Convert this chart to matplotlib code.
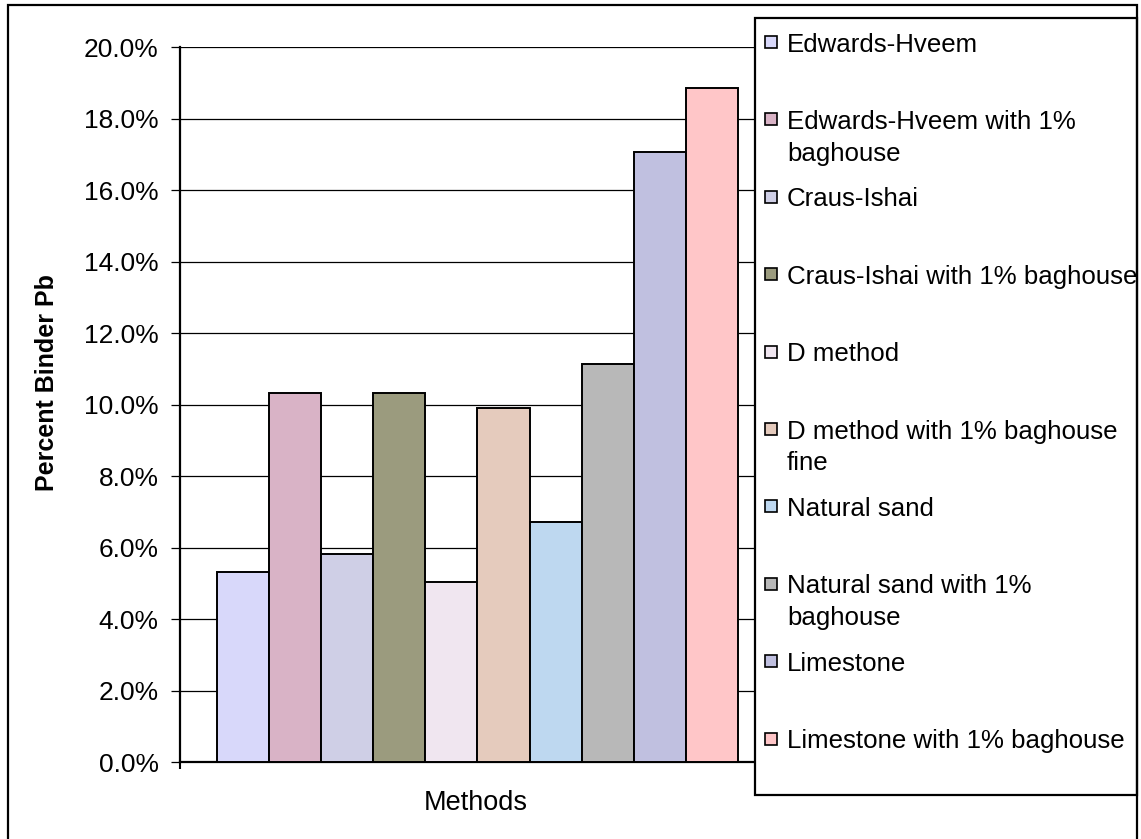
import matplotlib
matplotlib.use("Agg")
import matplotlib.pyplot as plt
from matplotlib.patches import Rectangle
from matplotlib.ticker import FuncFormatter

plt.rcParams['font.family'] = ['Liberation Sans', 'DejaVu Sans']

# binder content per aggregate / method (fraction of mix)
methods = [
    "Edwards-Hveem",
    "Edwards-Hveem with 1%\nbaghouse",
    "Craus-Ishai",
    "Craus-Ishai with 1% baghouse",
    "D method",
    "D method with 1% baghouse\nfine",
    "Natural sand",
    "Natural sand with 1%\nbaghouse",
    "Limestone",
    "Limestone with 1% baghouse",
]
binder_pb = [0.0531, 0.1034, 0.0582, 0.1034, 0.0503, 0.0990, 0.0671, 0.1114, 0.1706, 0.1885]
colors = ["#D8D8FA", "#D9B3C6", "#CFCFE6", "#9B9B7E", "#F0E6F0",
          "#E5CBBD", "#BED8F0", "#B8B8B8", "#C0C0E0", "#FFC6C8"]
yticks = [0.0, 0.02, 0.04, 0.06, 0.08, 0.10, 0.12, 0.14, 0.16, 0.18, 0.20]

W, H = 1141, 839
fig = plt.figure(figsize=(W / 100, H / 100), dpi=100)

def px(x, y):
    # pixel coords (top-left origin) -> figure fraction
    return x / W, 1 - y / H

left, top = px(179.5, 47.3)
right, bottom = px(775.5, 762)
ax = fig.add_axes([left, bottom, right - left, top - bottom])

x = list(range(len(methods)))
ax.bar(x, binder_pb, width=1.0, color=colors, edgecolor="black", linewidth=1.4, zorder=3)

gap = 0.72
ax.set_xlim(-0.5 - gap, len(methods) - 0.5 + gap)
ax.set_ylim(0, 0.20)
ax.set_yticks(yticks)
ax.yaxis.set_major_formatter(FuncFormatter(lambda v, p: f"{v * 100:.1f}%"))
ax.yaxis.grid(True, color="black", linewidth=0.9, zorder=0)
ax.set_axisbelow(True)
ax.tick_params(axis="y", direction="out", length=6.5, width=0.9, pad=8.5,
               labelsize=19, colors="black")
ax.set_xticks([-0.5 - gap])
ax.set_xticklabels([])
ax.tick_params(axis="x", direction="out", length=5, width=1.5)

for s in ("top", "right"):
    ax.spines[s].set_visible(False)
ax.spines["left"].set_linewidth(1.6)
ax.spines["bottom"].set_linewidth(1.6)

fig.text(*px(47, 383), "Percent Binder Pb", rotation=90, ha="center", va="center",
         fontsize=18, fontweight="bold")
fig.text(*px(476, 803), "Methods", ha="center", va="center", fontsize=19.5)

# legend panel
lx0, ly0 = px(755, 795)
lx1, ly1 = px(1137, 18)
fig.add_artist(Rectangle((lx0, ly0), lx1 - lx0, ly1 - ly0, transform=fig.transFigure,
                         facecolor="white", edgecolor="black", linewidth=1.6, zorder=5))
for i, (label, c) in enumerate(zip(methods, colors)):
    yc = 42 + i * 77.4
    sx, sy = px(765, yc + 6)
    sw, sh = 12 / W, 12 / H
    fig.add_artist(Rectangle((sx, sy), sw, sh, transform=fig.transFigure,
                             facecolor=c, edgecolor="black", linewidth=1.2, zorder=6))
    for k, line in enumerate(label.split("\n")):
        fig.text(*px(787, yc + k * 32), line, ha="left", va="center_baseline",
                 fontsize=18.6, zorder=7)

# outer chart border
bx0, _ = px(8, 0)
bx1, by1 = px(1137, 5)
fig.add_artist(Rectangle((bx0, -0.05), bx1 - bx0, by1 + 0.05, transform=fig.transFigure,
                         facecolor="none", edgecolor="black", linewidth=1.6, zorder=8))

fig.savefig("out.png", dpi=100)
